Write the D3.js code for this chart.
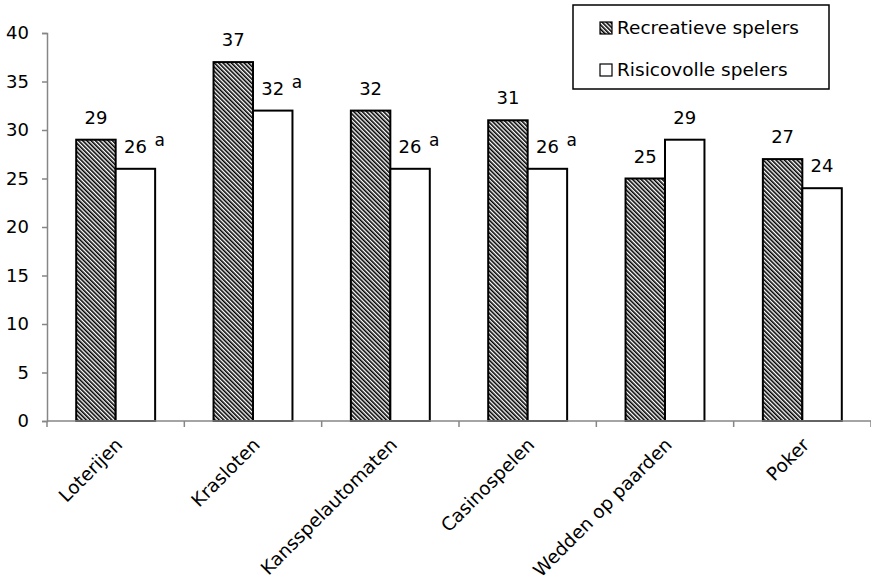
<!DOCTYPE html>
<html><head><meta charset="utf-8">
<script src="https://cdn.jsdelivr.net/npm/d3@7"></script>
<style>
html,body{margin:0;padding:0;background:#fff;}
svg text{font-family:"DejaVu Sans",sans-serif;fill:#000;}
</style></head>
<body>
<svg id="chart" width="871" height="580"></svg>
<script>
const categories = ["Loterijen","Krasloten","Kansspelautomaten","Casinospelen","Wedden op paarden","Poker"];
const seriesNames = ["Recreatieve spelers","Risicovolle spelers"];
const recreatief = [29,37,32,31,25,27];
const risicovol = [26,32,26,26,29,24];
const risicoNote = ["a","a","a","a","",""];
const yTicks = [0,5,10,15,20,25,30,35,40];

const svg = d3.select("#chart");
const mLeft = 47, mRight = 871, mTop = 33, mBottom = 421;

const defs = svg.append("defs");
const pat = defs.append("pattern").attr("id","hatch").attr("patternUnits","userSpaceOnUse")
  .attr("width",3).attr("height",10).attr("patternTransform","rotate(-45)");
pat.append("rect").attr("width",3).attr("height",10).attr("fill","#fff");
pat.append("line").attr("x1",0.8).attr("y1",0).attr("x2",0.8).attr("y2",10)
  .attr("stroke","#000").attr("stroke-width",1.6);

const y = d3.scaleLinear().domain([0,40]).range([mBottom, mTop]);
const x0 = d3.scaleBand().domain(categories).range([mLeft, mRight]).paddingInner(0).paddingOuter(0);
const x1 = d3.scaleBand().domain([0,1]).range([0, x0.bandwidth()]).paddingInner(0).paddingOuter(0.74);

// y axis
const yAxis = svg.append("g").attr("transform",`translate(${mLeft},0)`)
  .call(d3.axisLeft(y).tickValues(yTicks).tickSize(5).tickPadding(13));
yAxis.select(".domain").attr("stroke","#868686").attr("stroke-width",1.5);
yAxis.selectAll(".tick line").attr("stroke","#868686").attr("stroke-width",1.5);
yAxis.selectAll(".tick text").style("font-size","18px").style("font-family","DejaVu Sans").attr("fill","#000");

const rows = categories.map((c,i)=>({c, vals:[recreatief[i], risicovol[i]], note:risicoNote[i]}));

const g = svg.append("g");
const grp = g.selectAll("g.cat").data(rows).join("g").attr("class","cat")
  .attr("transform",d=>`translate(${x0(d.c)},0)`);
grp.selectAll("rect").data(d=>d.vals.map((v,k)=>({v,k}))).join("rect")
  .attr("x",d=>x1(d.k)).attr("width",x1.bandwidth())
  .attr("y",d=>y(d.v)).attr("height",d=>y(0)-y(d.v))
  .attr("fill",d=>d.k===0?"url(#hatch)":"#fff")
  .attr("stroke","#000").attr("stroke-width",2);

// value labels
grp.each(function(d){
  const gg = d3.select(this);
  d.vals.forEach((v,k)=>{
    const cx = x1(k)+x1.bandwidth()/2;
    gg.append("text").attr("x",cx).attr("y",y(v)-16)
      .attr("text-anchor","middle").style("font-size","18px").text(v);
    if(k===1 && d.note){
      gg.append("text").attr("x",cx+19).attr("y",y(v)-23)
        .style("font-size","17px").text(d.note);
    }
  });
});

// x axis
const xAxisG = svg.append("g");
xAxisG.append("line").attr("x1",mLeft).attr("x2",mRight).attr("y1",mBottom).attr("y2",mBottom)
  .attr("stroke","#868686").attr("stroke-width",1.5);
const bounds = categories.map(c=>x0(c)).concat([mRight]);
xAxisG.selectAll("line.tk").data(bounds).join("line").attr("class","tk")
  .attr("x1",d=>d).attr("x2",d=>d).attr("y1",mBottom).attr("y2",mBottom+6)
  .attr("stroke","#868686").attr("stroke-width",1.5);
xAxisG.selectAll("text").data(categories).join("text")
  .attr("transform",d=>`translate(${x0(d)+x0.bandwidth()/2+8},${mBottom+25}) rotate(-45)`)
  .attr("text-anchor","end").style("font-size","18.5px").text(d=>d);

// legend
const lg = svg.append("g");
lg.append("rect").attr("x",573).attr("y",5).attr("width",256).attr("height",84)
  .attr("fill","#fff").attr("stroke","#000").attr("stroke-width",1.5);
const li = lg.selectAll("g.li").data(seriesNames).join("g").attr("class","li")
  .attr("transform",(d,i)=>`translate(600,${34+i*42})`);
li.append("rect").attr("y",-12).attr("width",12).attr("height",12)
  .attr("fill",(d,i)=>i===0?"url(#hatch)":"#fff").attr("stroke","#000").attr("stroke-width",1.2);
li.append("text").attr("x",17).attr("y",0).style("font-size","18.5px").text(d=>d);
</script>
</body></html>
